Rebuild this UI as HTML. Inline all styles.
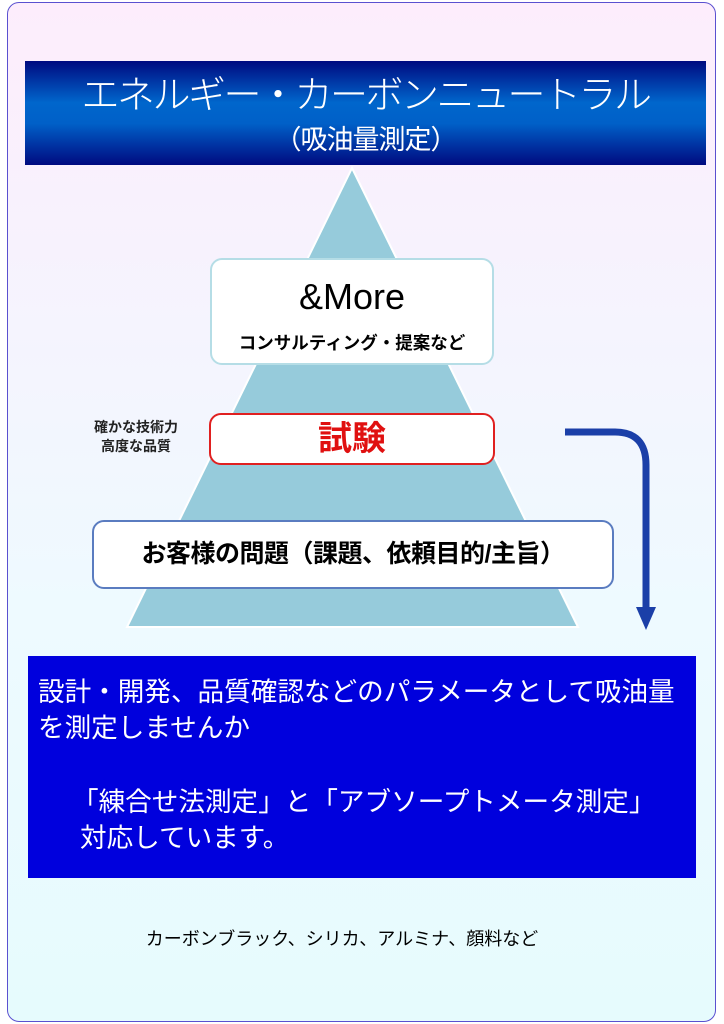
<!DOCTYPE html>
<html><head><meta charset="utf-8"><style>
body{margin:0;width:724px;height:1024px;position:relative;overflow:hidden;background:#fff;font-family:"Liberation Sans","Noto Sans CJK JP",sans-serif}
.frame{position:absolute;left:7px;top:2px;width:707px;height:1018px;border:1.5px solid #5a50d0;border-radius:12px;background:linear-gradient(#fdedfc,#eefaff 60%,#e6fbfd)}
.hdr{position:absolute;left:25px;top:61px;width:681px;height:104px;background:linear-gradient(#000a80,#0066cc 40%,#0060c8 60%,#000a80);color:#fff;text-align:center}
.t1{position:absolute;left:0;right:0;top:10px;font-size:38px;line-height:50px;letter-spacing:-2.5px;font-weight:300}
.t2{position:absolute;left:0;right:0;top:62px;font-size:27px;line-height:34px;letter-spacing:-1px}
.box{position:absolute;background:#fff;border-radius:12px;text-align:center}
.blue{position:absolute;left:28px;top:656px;width:668px;height:222px;background:#0000dd;color:#fff;font-size:26.6px;line-height:36px}
</style></head><body>
<div class="frame"></div>
<svg width="724" height="1024" style="position:absolute;left:0;top:0">
<polygon points="352,168 578,627 127,627" fill="#96cbdb" stroke="#fff" stroke-width="2"/>
<path d="M565,432 H615 Q646,432 646,465 V610" fill="none" stroke="#1b3fa8" stroke-width="7"/>
<polygon points="636,607 656,607 646,630" fill="#1b3fa8"/>
</svg>
<div class="hdr"><div class="t1">エネルギー・カーボンニュートラル</div><div class="t2">（吸油量測定）</div></div>
<div class="box" style="left:210px;top:258px;width:280px;height:103px;border:2px solid #b5dde6">
<div style="font-size:36px;margin-top:16px;line-height:42px">&amp;More</div>
<div style="font-size:17.5px;font-weight:bold;margin-top:12px">コンサルティング・提案など</div></div>
<div style="position:absolute;left:80px;top:418px;width:112px;text-align:center;font-size:14px;line-height:19px;font-weight:bold;color:#222">確かな技術力<br>高度な品質</div>
<div class="box" style="left:209px;top:413px;width:282px;height:48px;border:2.5px solid #e02020;color:#e01010;font-size:34px;line-height:48px;font-weight:bold">試験</div>
<div class="box" style="left:92px;top:520px;width:518px;height:65px;border:2px solid #5a7cc0;font-size:25px;line-height:65px;font-weight:bold;letter-spacing:-0.5px">お客様の問題（課題、依頼目的/主旨）</div>
<div class="blue"><div style="position:absolute;left:10px;top:18px">設計・開発、品質確認などのパラメータとして吸油量<br>を測定しませんか</div>
<div style="position:absolute;left:44px;top:128px">「練合せ法測定」と「アブソープトメータ測定」<br><span style="margin-left:8px">対応しています。</span></div></div>
<div style="position:absolute;left:0;width:684px;top:925px;text-align:center;font-size:18px">カーボンブラック、シリカ、アルミナ、顔料など</div>
</body></html>
